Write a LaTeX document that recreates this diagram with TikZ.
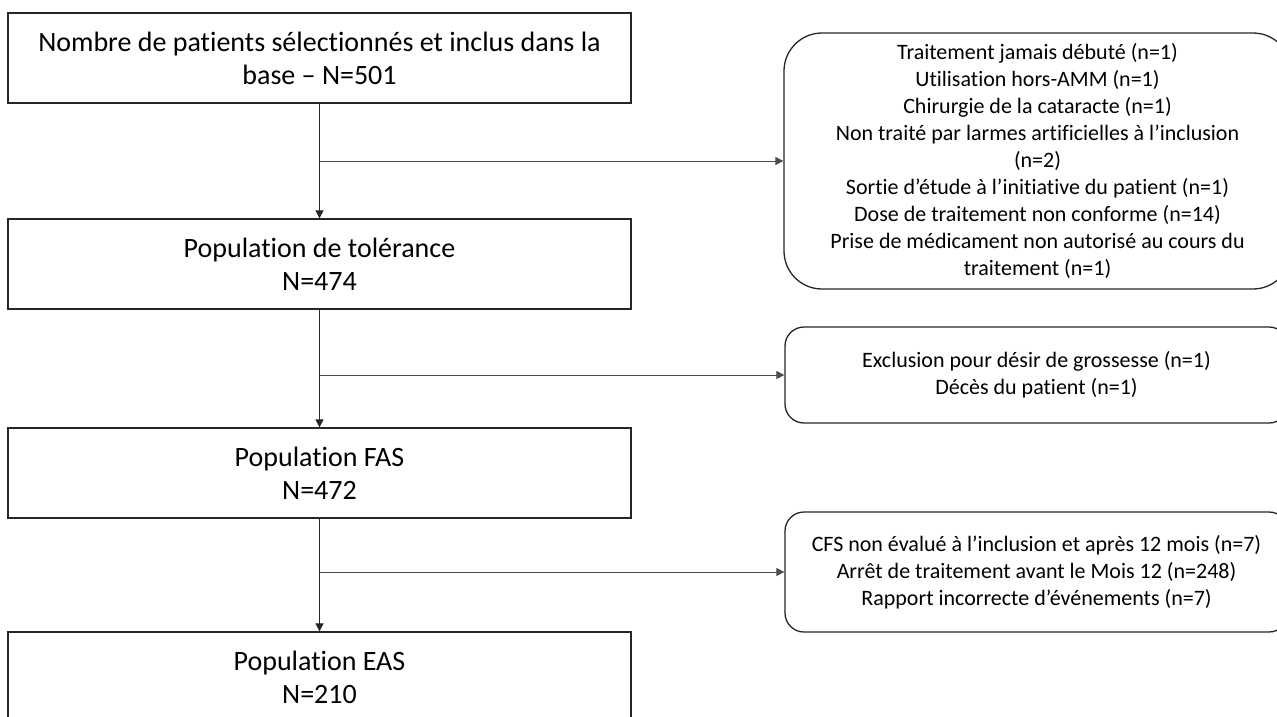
\documentclass[tikz,border=0pt]{standalone}
\usepackage{fontspec}
\setmainfont{Carlito}[Ligatures=NoCommon]
\usetikzlibrary{arrows.meta}
\begin{document}
\begin{tikzpicture}[x=1pt,y=-1pt,
  line color/.style={draw=black!85},
  mainbox/.style={line color, line width=1.3pt, minimum width=623pt, minimum height=90pt, inner sep=0pt, align=center, font=\fontsize{28}{33}\selectfont},
  sidebox/.style={line color, line width=1.3pt, inner sep=0pt, align=center, font=\fontsize{22}{27}\selectfont},
  arr/.style={line color, line width=0.9pt, -{Triangle[length=8pt,width=8pt]}},
  harr/.style={draw=black!70, line width=1pt, -{Triangle[length=8pt,width=8pt]}}]
\useasboundingbox (0,0) rectangle (1277,716);
\clip (0,0) rectangle (1277,716);
\fill[white] (0,0) rectangle (1277,716);

\node[mainbox] (b1) at (319.5,58) {Nombre de patients sélectionnés et inclus dans la\\base – N=501};
\node[mainbox] (b2) at (319.5,264) {Population de tolérance\\N=474};
\node[mainbox] (b3) at (319.5,473) {Population FAS\\N=472};
\node[mainbox] (b4) at (319.5,677) {Population EAS\\N=210};

\node[sidebox, rounded corners=38pt, minimum width=507pt, minimum height=256pt] (r1) at (1037.5,161)
  {Traitement jamais débuté (n=1)\\Utilisation hors-AMM (n=1)\\Chirurgie de la cataracte (n=1)\\Non traité par larmes artificielles à l’inclusion\\(n=2)\\Sortie d’étude à l’initiative du patient (n=1)\\Dose de traitement non conforme (n=14)\\Prise de médicament non autorisé au cours du\\traitement (n=1)};
\node[sidebox, rounded corners=19pt, minimum width=503pt, minimum height=96pt] (r2) at (1036.5,375)
  {Exclusion pour désir de grossesse (n=1)\\Décès du patient (n=1)};
\node[sidebox, rounded corners=19pt, minimum width=503pt, minimum height=120pt] (r3) at (1036.5,572)
  {CFS non évalué à l’inclusion et après 12 mois (n=7)\\Arrêt de traitement avant le Mois 12 (n=248)\\Rapport incorrecte d’événements (n=7)};

\draw[arr] (b1) -- (b2);
\draw[arr] (b2) -- (b3);
\draw[arr] (b3) -- (b4);

\coordinate (j1) at (b1.center |- r1.west);
\coordinate (j2) at (b1.center |- r2.west);
\coordinate (j3) at (b1.center |- r3.west);
\draw[harr] (j1) -- (r1.west);
\draw[harr] (j2) -- (r2.west);
\draw[harr] (j3) -- (r3.west);
\end{tikzpicture}
\end{document}
